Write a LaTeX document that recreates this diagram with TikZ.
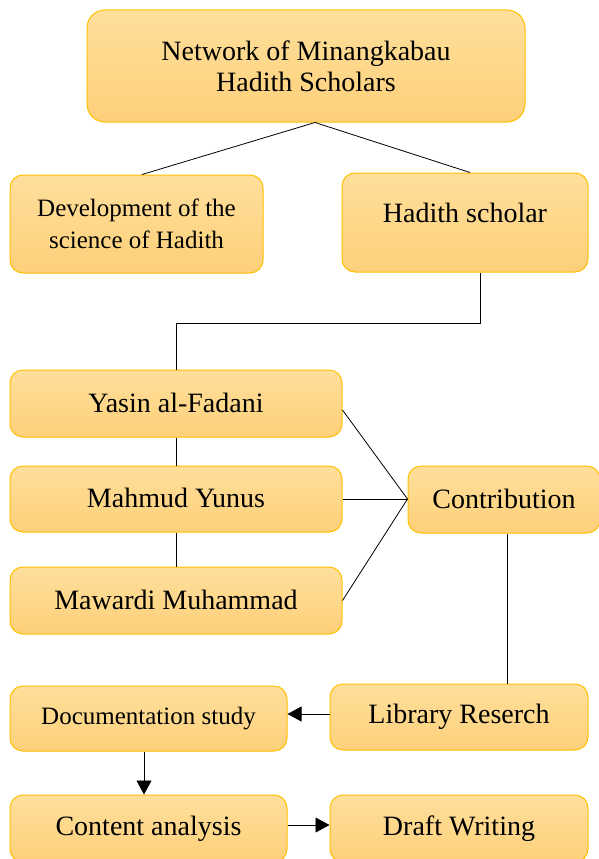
\documentclass[tikz,border=0pt]{standalone}
\usepackage{fontspec}
\setmainfont{Liberation Serif}
\usetikzlibrary{arrows.meta}
\definecolor{boxtop}{HTML}{FFDF9B}
\definecolor{boxbot}{HTML}{FDD07A}
\definecolor{boxline}{HTML}{FFC000}
\begin{document}
\begin{tikzpicture}[x=1pt,y=-1pt,
  box/.style={draw=boxline,line width=1pt,rounded corners=13pt,top color=boxtop,bottom color=boxbot,
    inner sep=0pt,align=center,font=\fontsize{28}{31}\selectfont},
  conn/.style={line width=0.8pt,black},
  arr/.style={conn,-{Triangle[length=14pt,width=15pt]}}]
\useasboundingbox (0,0) rectangle (598,859);
\node[box,minimum width=438pt,minimum height=112pt,rounded corners=18pt] (top) at (306,66) {Network of Minangkabau\\Hadith Scholars};
\node[box,minimum width=253pt,minimum height=98pt,font=\fontsize{25}{32}\selectfont] (dev) at (136.5,224) {Development of the\\science of Hadith};
\node[box,minimum width=246pt,minimum height=99pt,label={[yshift=10pt,font=\fontsize{28}{31}\selectfont]center:Hadith scholar}] (hs) at (465,222.5) {};
\node[box,minimum width=332pt,minimum height=67pt] (yasin) at (176,403.5) {\raisebox{1.5pt}{Yasin al-Fadani}};
\node[box,minimum width=332pt,minimum height=66pt] (mahmud) at (176,499) {\raisebox{1.5pt}{Mahmud Yunus}};
\node[box,minimum width=332pt,minimum height=67pt] (mawardi) at (176,600.5) {\raisebox{1.5pt}{Mawardi Muhammad}};
\node[box,minimum width=192pt,minimum height=67pt] (contrib) at (504,499.5) {\raisebox{1.5pt}{Contribution}};
\node[box,minimum width=258pt,minimum height=66pt] (lib) at (459,717) {\raisebox{3pt}{Library Reserch}};
\node[box,minimum width=277pt,minimum height=65pt,font=\fontsize{25}{30}\selectfont] (doc) at (148.5,718.5) {\raisebox{4pt}{Documentation study}};
\node[box,minimum width=277pt,minimum height=67pt] (cont) at (148.5,828.5) {\raisebox{3pt}{Content analysis}};
\node[box,minimum width=258pt,minimum height=67pt] (draft) at (459,828.5) {\raisebox{3pt}{Draft Writing}};
\draw[conn] ([xshift=9pt]top.south) -- ([xshift=5.5pt]dev.north);
\draw[conn] ([xshift=9pt]top.south) -- ([xshift=5pt]hs.north);
\draw[conn] ([xshift=15pt]hs.south) -- ++(0,51) -| (yasin.north);
\draw[conn] (yasin.south) -- (mahmud.north);
\draw[conn] (mahmud.south) -- (mawardi.north);
\draw[conn] ([yshift=-6.5pt]yasin.east) -- ([yshift=0.5pt]contrib.west);
\draw[conn] (mahmud.east) -- ([yshift=0.5pt]contrib.west);
\draw[conn] (mawardi.east) -- ([yshift=0.5pt]contrib.west);
\draw[conn] ([xshift=3pt]contrib.south) -- ([xshift=3pt]contrib.south |- lib.north);
\draw[arr] ([yshift=3pt]lib.west) -- ([yshift=3pt]lib.west -| doc.east);
\draw[arr] ([xshift=-4.5pt]doc.south) -- ([xshift=-4.5pt]doc.south |- cont.north);
\draw[arr] ([yshift=3.5pt]cont.east) -- ([yshift=3.5pt]cont.east -| draft.west);
\end{tikzpicture}
\end{document}
